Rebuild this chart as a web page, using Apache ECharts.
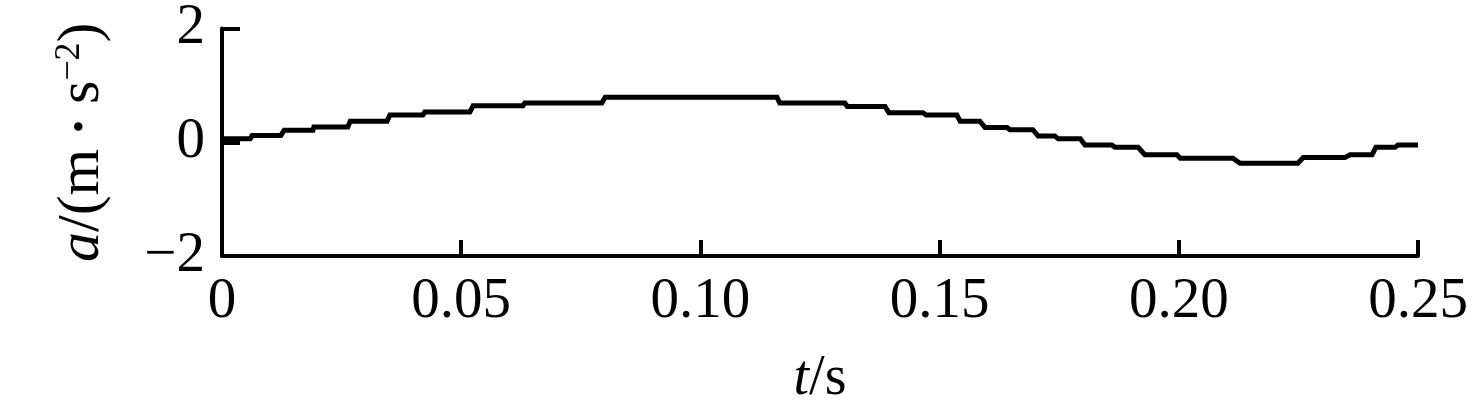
<!DOCTYPE html>
<html>
<head>
<meta charset="utf-8">
<script src="https://cdn.jsdelivr.net/npm/echarts@6/dist/echarts.min.js"></script>
<style>
html,body{margin:0;padding:0;background:#fff;}
#chart{width:1474px;height:412px;}
</style>
</head>
<body>
<div id="chart"></div>
<script>
// Step levels of a(t): start time, end time, value (m·s^-2)
var levelStart = [0, 0.0063, 0.0130, 0.0192, 0.0268, 0.0351, 0.0424, 0.0525, 0.0633, 0.0801,
  0.1166, 0.1307, 0.1394, 0.1472, 0.1543, 0.1595, 0.1647, 0.1706, 0.1748, 0.1804,
  0.1867, 0.1929, 0.2003, 0.2128, 0.2260, 0.2358, 0.2412, 0.2458];
var levelEnd = [0.0059, 0.0123, 0.0190, 0.0263, 0.0345, 0.0420, 0.0518, 0.0629, 0.0794, 0.1160,
  0.1302, 0.1386, 0.1465, 0.1536, 0.1584, 0.1641, 0.1695, 0.1741, 0.1794, 0.1860,
  0.1915, 0.1996, 0.2113, 0.2249, 0.2347, 0.2404, 0.2452, 0.2500];
var levelValue = [0.06, 0.12, 0.21, 0.27, 0.37, 0.48, 0.53, 0.64, 0.69, 0.79,
  0.69, 0.63, 0.52, 0.48, 0.37, 0.26, 0.22, 0.11, 0.06, -0.05,
  -0.09, -0.22, -0.28, -0.37, -0.27, -0.22, -0.09, -0.05];
var xTicks = [0, 0.05, 0.10, 0.15, 0.20, 0.25];
var xTickLabels = ['0', '0.05', '0.10', '0.15', '0.20', '0.25'];
var yTickLabels = {'-2': '\u22122', '0': '0', '2': '2'};

var data = [];
for (var i = 0; i < levelValue.length; i++) {
  data.push([levelStart[i], levelValue[i]]);
  data.push([levelEnd[i], levelValue[i]]);
}

var FONT = '"Liberation Serif", "Times New Roman", serif';
var chart = echarts.init(document.getElementById('chart'), null, {renderer: 'canvas'});
chart.setOption({
  animation: false,
  backgroundColor: '#fff',
  grid: {left: 222, right: 56, top: 27.5, bottom: 155.5, containLabel: false},
  xAxis: {
    type: 'value', min: 0, max: 0.25, interval: 0.05,
    name: '{i|t}{n|/s}', nameLocation: 'middle', nameGap: 95,
    nameTextStyle: {rich: {
      i: {fontFamily: FONT, fontStyle: 'italic', fontSize: 56, color: '#000'},
      n: {fontFamily: FONT, fontSize: 56, color: '#000'}
    }},
    axisLine: {show: true, onZero: false, lineStyle: {color: '#000', width: 4}},
    axisTick: {show: true, inside: true, length: 16, lineStyle: {color: '#000', width: 4}},
    axisLabel: {
      margin: 18, fontFamily: FONT, fontSize: 57, color: '#000',
      formatter: function (v) {
        for (var k = 0; k < xTicks.length; k++) { if (Math.abs(v - xTicks[k]) < 1e-9) return xTickLabels[k]; }
        return '';
      }
    },
    splitLine: {show: false}
  },
  yAxis: {
    type: 'value', min: -2, max: 2, interval: 2,
    name: '{i|a}{n|/(m}{d|\u2022}{n|s}{s|\u22122}{n|)}', nameLocation: 'middle', nameRotate: 90, nameGap: 110,
    nameTextStyle: {rich: {
      i: {fontFamily: FONT, fontStyle: 'italic', fontSize: 60, color: '#000'},
      n: {fontFamily: FONT, fontSize: 60, color: '#000'},
      d: {fontFamily: FONT, fontSize: 36, color: '#000', padding: [0, 16, 0, 16]},
      s: {fontFamily: FONT, fontSize: 36, color: '#000', verticalAlign: 'top'}
    }},
    axisLine: {show: true, lineStyle: {color: '#000', width: 4}},
    axisTick: {show: true, inside: true, length: 18, lineStyle: {color: '#000', width: 4}},
    axisLabel: {
      margin: 17, fontFamily: FONT, fontSize: 57, color: '#000',
      formatter: function (v) { return yTickLabels[String(v)] || ''; }
    },
    splitLine: {show: false}
  },
  series: [{
    type: 'line', data: data, showSymbol: false, symbol: 'none',
    lineStyle: {color: '#000', width: 5, join: 'miter'},
    clip: false
  }]
});
</script>
</body>
</html>
